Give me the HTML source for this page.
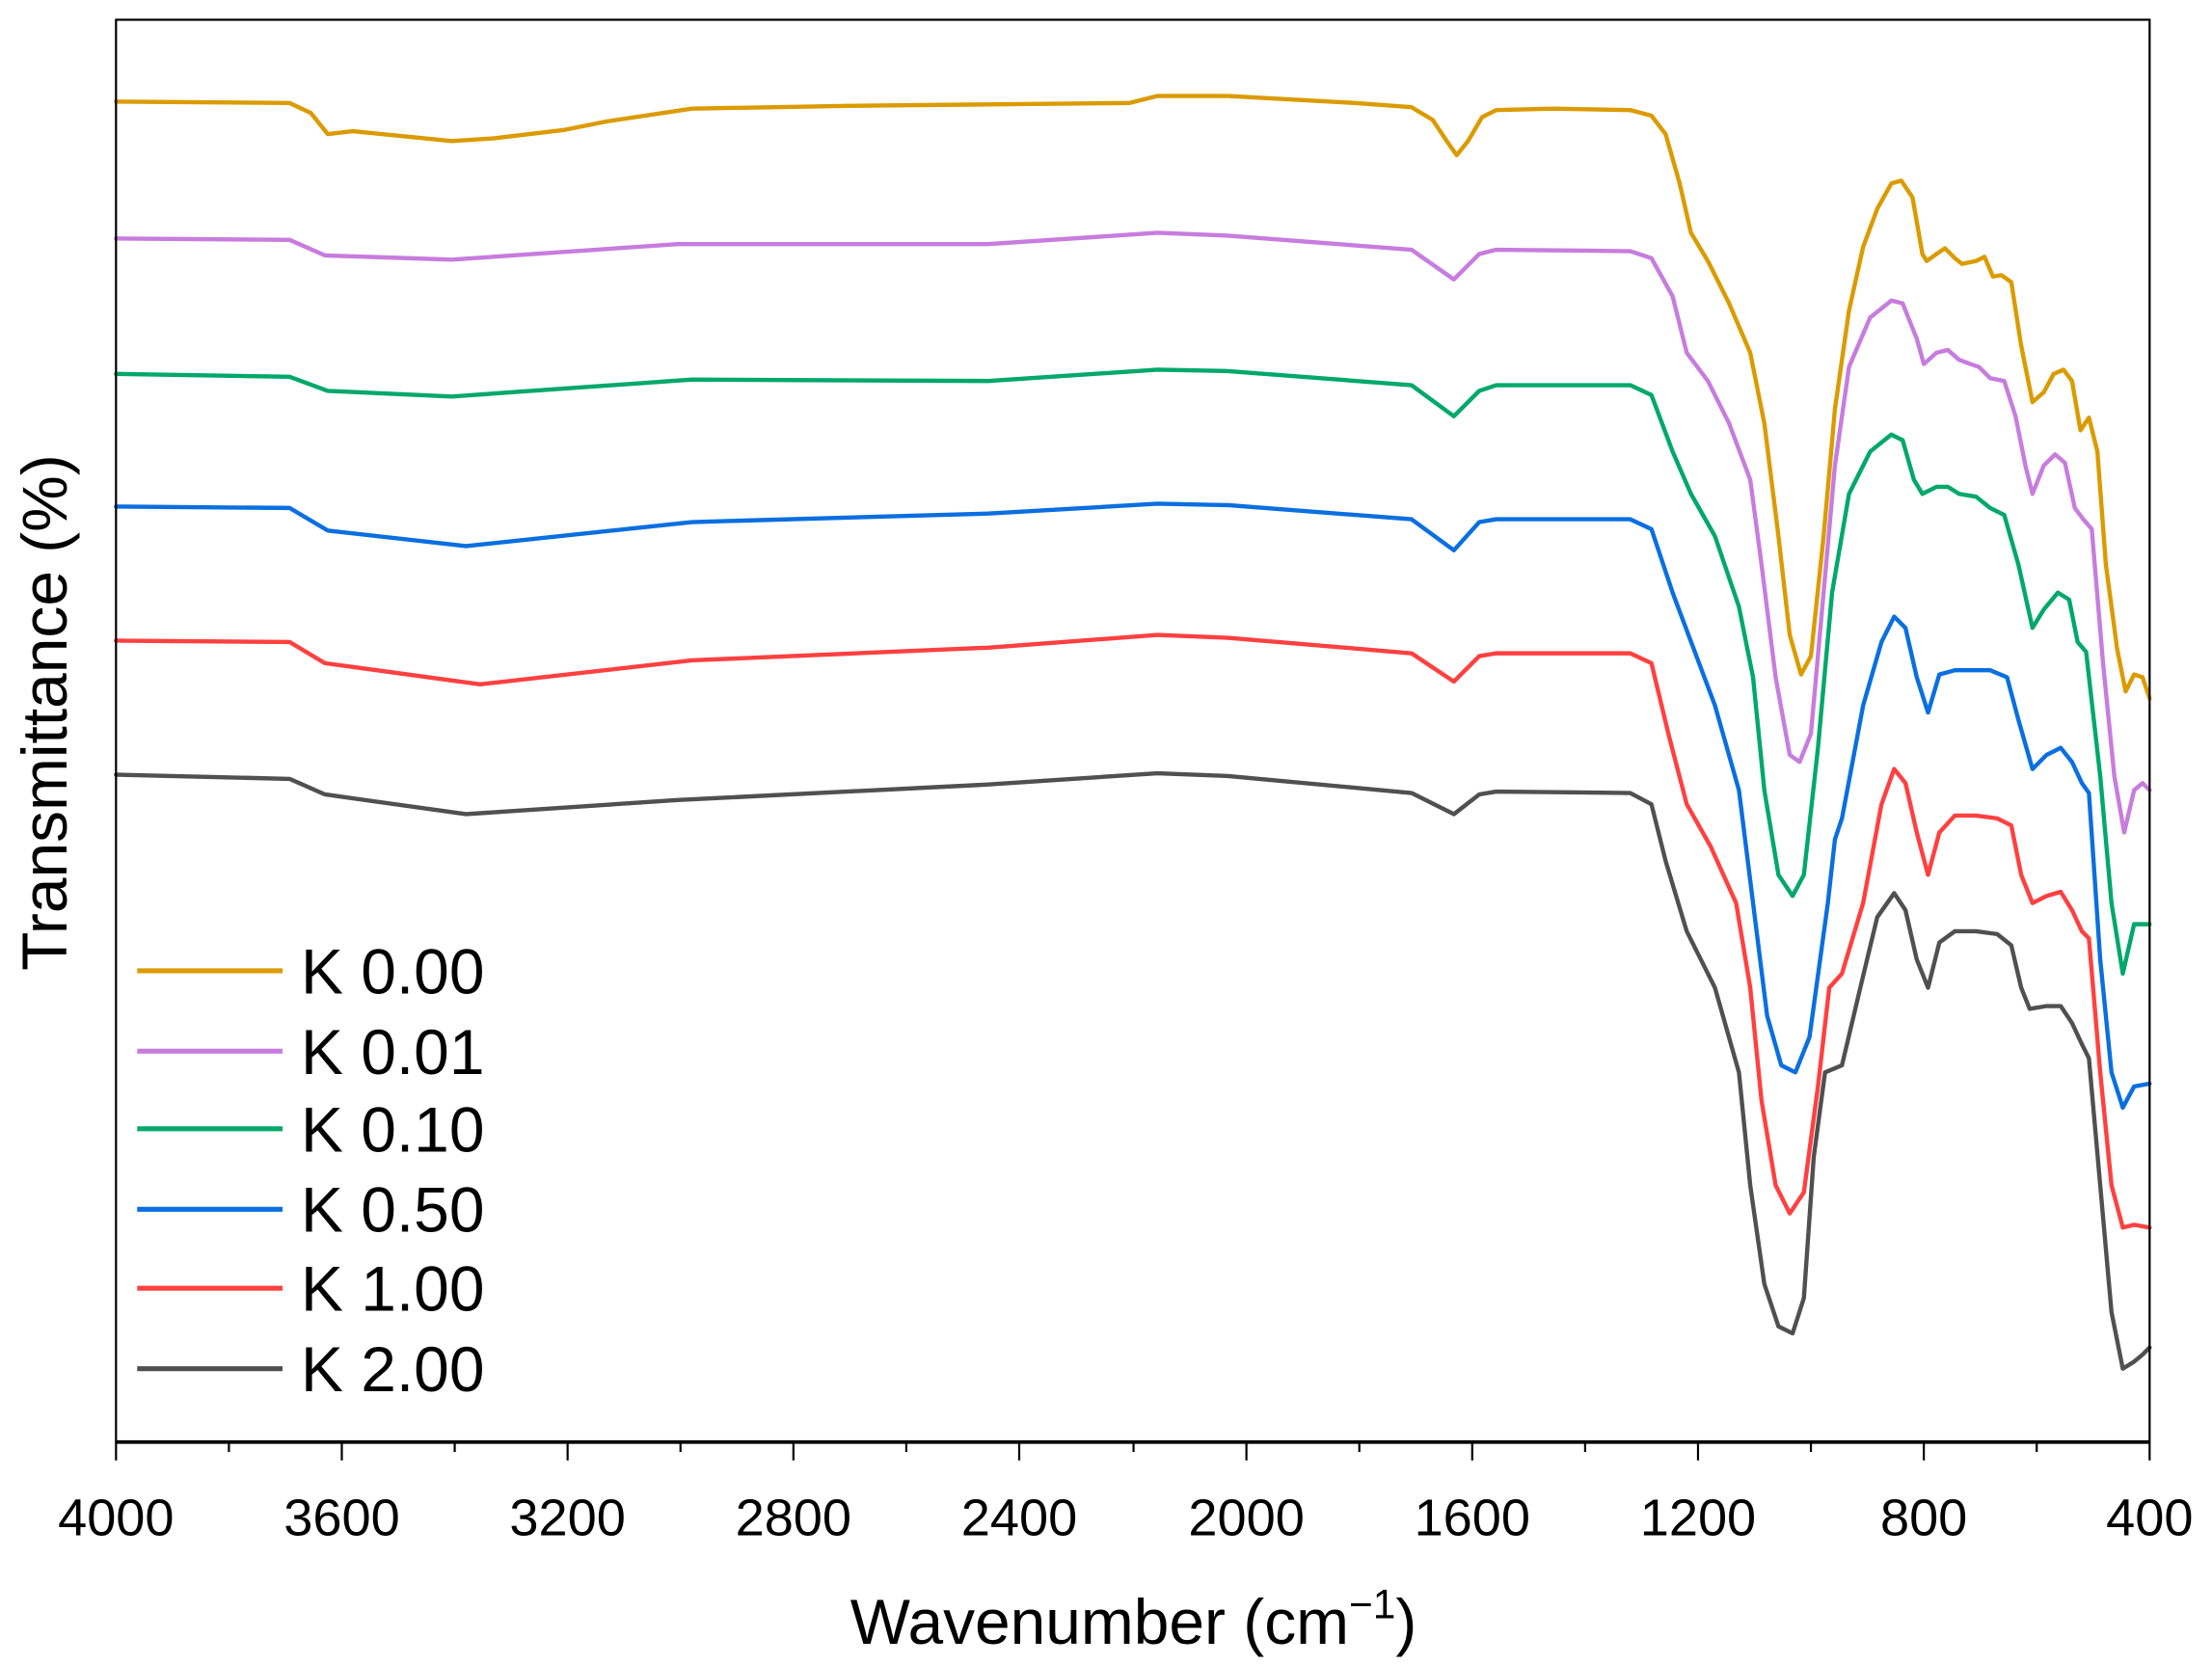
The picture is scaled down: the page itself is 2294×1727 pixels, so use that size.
<!DOCTYPE html>
<html><head><meta charset="utf-8"><style>html,body{margin:0;padding:0;background:#fff}svg{display:block}</style></head>
<body>
<svg width="2294" height="1727" viewBox="0 0 1567 1180" xmlns="http://www.w3.org/2000/svg" font-family="Liberation Sans, Arial, sans-serif">
<rect x="0" y="0" width="1567" height="1180" fill="#fff"/>
<g fill="none" stroke-width="3" stroke-linejoin="round" stroke-linecap="round">
<polyline stroke="#DB9B00" points="82,72 205,73 220,80 232,95 250,93 290,97 320,100 350,98 400,92 430,86 490,77 600,75 700,74 800,73 820,68 870,68 960,73 1000,76 1015,85 1025,100 1032,110 1040,100 1050,83 1060,78 1100,77 1155,78 1170,82 1180,95 1190,130 1198,165 1210,185 1225,215 1240,250 1250,300 1260,380 1268,450 1276,478 1283,465 1292,380 1300,290 1310,220 1320,175 1330,148 1340,130 1347,128 1355,140 1362,180 1365,185 1372,180 1378,176 1385,183 1390,187 1400,185 1406,182 1412,196 1418,195 1425,200 1432,245 1440,285 1448,278 1455,265 1462,262 1468,270 1474,305 1480,296 1486,320 1492,400 1500,460 1506,490 1512,478 1518,480 1523,495"/>
<polyline stroke="#C77CDE" points="82,169 205,170 230,181 320,184 480,173 700,173 820,165 870,167 1000,177 1030,198 1048,180 1060,177 1155,178 1170,183 1185,210 1195,250 1210,270 1225,300 1240,340 1248,400 1258,480 1268,535 1275,540 1283,520 1292,420 1300,330 1310,260 1325,225 1340,213 1348,215 1358,240 1363,258 1372,250 1380,248 1388,255 1396,258 1402,260 1410,268 1420,270 1428,295 1435,330 1440,350 1448,330 1456,322 1463,328 1470,360 1476,368 1482,375 1490,470 1498,550 1505,590 1512,560 1518,555 1523,560"/>
<polyline stroke="#00A86B" points="82,265 205,267 232,277 320,281 490,269 700,270 820,262 870,263 1000,273 1030,295 1048,277 1060,273 1155,273 1170,280 1185,320 1198,350 1215,380 1232,430 1242,480 1250,560 1260,620 1270,635 1278,620 1288,530 1298,420 1310,350 1325,320 1340,308 1348,312 1356,340 1362,350 1372,345 1380,345 1388,350 1400,352 1410,360 1420,365 1430,400 1440,445 1448,432 1458,420 1466,425 1472,455 1478,462 1488,550 1496,640 1504,690 1512,655 1523,655"/>
<polyline stroke="#0A6FE0" points="82,359 205,360 232,376 330,387 490,370 700,364 820,357 870,358 1000,368 1030,390 1048,370 1060,368 1155,368 1170,375 1185,420 1200,460 1215,500 1232,560 1242,640 1252,720 1262,755 1272,760 1282,735 1295,640 1300,595 1305,580 1320,500 1333,455 1342,437 1350,445 1358,480 1366,505 1374,478 1385,475 1395,475 1410,475 1422,480 1430,510 1440,545 1450,535 1460,530 1468,540 1475,555 1480,562 1488,680 1496,760 1504,785 1512,770 1523,768"/>
<polyline stroke="#FF4040" points="82,454 205,455 230,470 340,485 490,468 700,459 820,450 870,452 1000,463 1030,483 1048,465 1060,463 1155,463 1170,470 1182,520 1195,570 1212,600 1230,640 1240,700 1248,780 1258,840 1268,860 1278,845 1288,770 1296,700 1305,690 1320,640 1333,570 1342,545 1350,555 1358,590 1366,620 1374,590 1385,578 1400,578 1415,580 1425,585 1432,620 1440,640 1450,635 1460,632 1468,645 1475,660 1480,665 1488,760 1496,840 1504,870 1512,868 1523,870"/>
<polyline stroke="#505050" points="82,549 205,552 230,563 330,577 480,567 700,556 820,548 870,550 1000,562 1030,577 1048,563 1060,561 1155,562 1170,570 1180,610 1195,660 1215,700 1232,760 1240,840 1250,910 1260,940 1270,945 1278,920 1285,820 1293,760 1305,755 1318,700 1330,650 1342,633 1350,645 1358,680 1366,700 1374,668 1385,660 1400,660 1415,662 1425,670 1432,700 1438,715 1450,713 1460,713 1468,725 1475,740 1480,750 1488,840 1496,930 1504,970 1512,965 1518,960 1523,955"/>
</g>
<rect x="82" y="14" width="1441" height="1008" fill="none" stroke="#000" stroke-width="1.5"/>
<line x1="82" y1="1022" x2="1523" y2="1022" stroke="#000" stroke-width="2.5"/>
<g stroke="#000" stroke-width="1.5">
<line x1="82" y1="1022" x2="82" y2="1035"/><line x1="242" y1="1022" x2="242" y2="1035"/><line x1="402" y1="1022" x2="402" y2="1035"/><line x1="562" y1="1022" x2="562" y2="1035"/><line x1="722" y1="1022" x2="722" y2="1035"/><line x1="883" y1="1022" x2="883" y2="1035"/><line x1="1043" y1="1022" x2="1043" y2="1035"/><line x1="1203" y1="1022" x2="1203" y2="1035"/><line x1="1363" y1="1022" x2="1363" y2="1035"/><line x1="1523" y1="1022" x2="1523" y2="1035"/>
<line x1="162" y1="1022" x2="162" y2="1029"/><line x1="322" y1="1022" x2="322" y2="1029"/><line x1="482" y1="1022" x2="482" y2="1029"/><line x1="642" y1="1022" x2="642" y2="1029"/><line x1="803" y1="1022" x2="803" y2="1029"/><line x1="963" y1="1022" x2="963" y2="1029"/><line x1="1123" y1="1022" x2="1123" y2="1029"/><line x1="1283" y1="1022" x2="1283" y2="1029"/><line x1="1443" y1="1022" x2="1443" y2="1029"/>
</g>
<g font-size="37" text-anchor="middle" fill="#000">
<text x="82" y="1088">4000</text><text x="242" y="1088">3600</text><text x="402" y="1088">3200</text><text x="562" y="1088">2800</text><text x="722" y="1088">2400</text><text x="883" y="1088">2000</text><text x="1043" y="1088">1600</text><text x="1203" y="1088">1200</text><text x="1363" y="1088">800</text><text x="1523" y="1088">400</text>
</g>
<text x="803" y="1165" font-size="45" text-anchor="middle">Wavenumber (cm<tspan font-size="29" dy="-18">−1</tspan><tspan dy="18">)</tspan></text>
<text transform="translate(47,505) rotate(-90)" font-size="45" text-anchor="middle">Transmittance (%)</text>
<g stroke-width="3.5">
<line x1="97" y1="688" x2="200" y2="688" stroke="#DB9B00"/>
<line x1="97" y1="745" x2="200" y2="745" stroke="#C77CDE"/>
<line x1="97" y1="800" x2="200" y2="800" stroke="#00A86B"/>
<line x1="97" y1="857" x2="200" y2="857" stroke="#0A6FE0"/>
<line x1="97" y1="913" x2="200" y2="913" stroke="#FF4040"/>
<line x1="97" y1="970" x2="200" y2="970" stroke="#505050"/>
</g>
<g font-size="45" fill="#000">
<text x="213" y="704">K 0.00</text><text x="213" y="761">K 0.01</text><text x="213" y="816">K 0.10</text><text x="213" y="873">K 0.50</text><text x="213" y="929">K 1.00</text><text x="213" y="986">K 2.00</text>
</g>
</svg>
</body></html>
